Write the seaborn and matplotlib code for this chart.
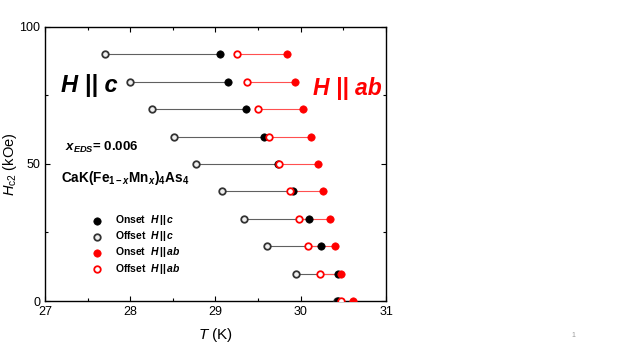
import pandas as pd
import matplotlib.pyplot as plt
import seaborn as sns
from matplotlib.ticker import MultipleLocator

# campo (kOe) e temperaturas (K)
campo = [90, 80, 70, 60, 50, 40, 30, 20, 10, 0]
onset_c = [29.055, 29.152, 29.363, 29.570, 29.734, 29.906, 30.094, 30.234, 30.440, 30.440]
offset_c = [27.707, 27.992, 28.250, 28.516, 28.770, 29.074, 29.332, 29.600, 29.940, 30.430]
onset_ab = [29.844, 29.934, 30.031, 30.121, 30.203, 30.262, 30.344, 30.402, 30.473, 30.617]
offset_ab = [29.254, 29.371, 29.504, 29.625, 29.742, 29.871, 29.980, 30.082, 30.223, 30.470]

df = pd.DataFrame({"H": campo, "onset_c": onset_c, "offset_c": offset_c,
                   "onset_ab": onset_ab, "offset_ab": offset_ab})

sns.set_style("ticks")
plt.rcParams['font.family'] = ['Liberation Sans', 'DejaVu Sans']
plt.rcParams['mathtext.fontset'] = 'custom'
plt.rcParams['mathtext.rm'] = 'Liberation Sans'
plt.rcParams['mathtext.it'] = 'Liberation Sans:italic'
plt.rcParams['mathtext.bf'] = 'Liberation Sans:bold'
plt.rcParams['mathtext.bfit'] = 'Liberation Sans:bold:italic'
for k in ['text.color', 'axes.labelcolor', 'xtick.color', 'ytick.color', 'axes.edgecolor']:
    plt.rcParams[k] = 'black'

fig = plt.figure(figsize=(6.23, 3.5), dpi=100)
ax = fig.add_axes([0.0722, 0.14, 0.5474, 0.7829])

# linhas ligando offset e onset
for _, r in df.iterrows():
    ax.plot([r["offset_c"], r["onset_c"]], [r["H"], r["H"]], color="#606060", lw=0.8, zorder=1)
    ax.plot([r["offset_ab"], r["onset_ab"]], [r["H"], r["H"]], color="#ff5050", lw=0.8, zorder=1)

lab_on_c = r"Onset  $\mathbfit{H}\,\mathbf{||}\,\mathbfit{c}$"
lab_off_c = r"Offset  $\mathbfit{H}\,\mathbf{||}\,\mathbfit{c}$"
lab_on_ab = r"Onset  $\mathbfit{H}\,\mathbf{||}\,\mathbfit{ab}$"
lab_off_ab = r"Offset  $\mathbfit{H}\,\mathbf{||}\,\mathbfit{ab}$"

sns.scatterplot(data=df, x="offset_c", y="H", ax=ax, s=22, marker="o",
                facecolor="#f0f0f0", edgecolor="#333333", linewidth=1.3, label=lab_off_c, zorder=3)
sns.scatterplot(data=df, x="onset_c", y="H", ax=ax, s=28, marker="o",
                color="black", edgecolor="black", linewidth=0.5, label=lab_on_c, zorder=3)
sns.scatterplot(data=df, x="offset_ab", y="H", ax=ax, s=22, marker="o",
                facecolor="white", edgecolor="red", linewidth=1.3, label=lab_off_ab, zorder=3)
sns.scatterplot(data=df, x="onset_ab", y="H", ax=ax, s=28, marker="o",
                color="red", edgecolor="red", linewidth=0.5, label=lab_on_ab, zorder=3)

ax.set_xlim(27, 31)
ax.set_ylim(0, 100)
ax.xaxis.set_major_locator(MultipleLocator(1))
ax.xaxis.set_minor_locator(MultipleLocator(0.5))
ax.yaxis.set_major_locator(MultipleLocator(50))
ax.yaxis.set_minor_locator(MultipleLocator(25))
ax.tick_params(which="both", direction="in", top=True, right=True, labelsize=9, width=0.8)
ax.tick_params(which="major", length=3.5)
ax.tick_params(which="minor", length=2.5)
for s in ax.spines.values():
    s.set_linewidth(1.0)

ax.set_xlabel(r"$T$ (K)", fontsize=11, labelpad=6)
ax.set_ylabel(r"$H_{\mathrm{c2}}$ (kOe)", fontsize=10.5, labelpad=0)

ax.text(27.188, 76.3, "H || c", fontsize=17, fontweight="bold", fontstyle="italic",
        color="black", ha="left", va="baseline")
ax.text(30.144, 75.2, "H || ab", fontsize=16.5, fontweight="bold", fontstyle="italic",
        color="red", ha="left", va="baseline")
ax.text(27.235, 54.9, r"$\mathbfit{x}_{\mathbfit{EDS}}$= 0.006", fontsize=9.5,
        fontweight="bold", ha="left", va="baseline")
ax.text(27.188, 43.3,
        r"CaK(Fe$_{\mathbf{1-}\mathbfit{x}}$Mn$_{\mathbfit{x}}$)$_{\mathbf{4}}$As$_{\mathbf{4}}$",
        fontsize=9.8, fontweight="bold", ha="left", va="baseline")

handles, labels = ax.get_legend_handles_labels()
ordem = [lab_on_c, lab_off_c, lab_on_ab, lab_off_ab]
hs = [handles[labels.index(l)] for l in ordem]
ax.legend(hs, ordem, loc="upper left", bbox_to_anchor=(0.138, 0.32), frameon=False,
          prop={"weight": "bold", "size": 7.5}, handlelength=1.0, handletextpad=1.2,
          labelspacing=0.2, borderpad=0, borderaxespad=0)

fig.text(0.918, 0.038, "1", fontsize=5, color="#999999")

fig.savefig("out.png", dpi=100)
